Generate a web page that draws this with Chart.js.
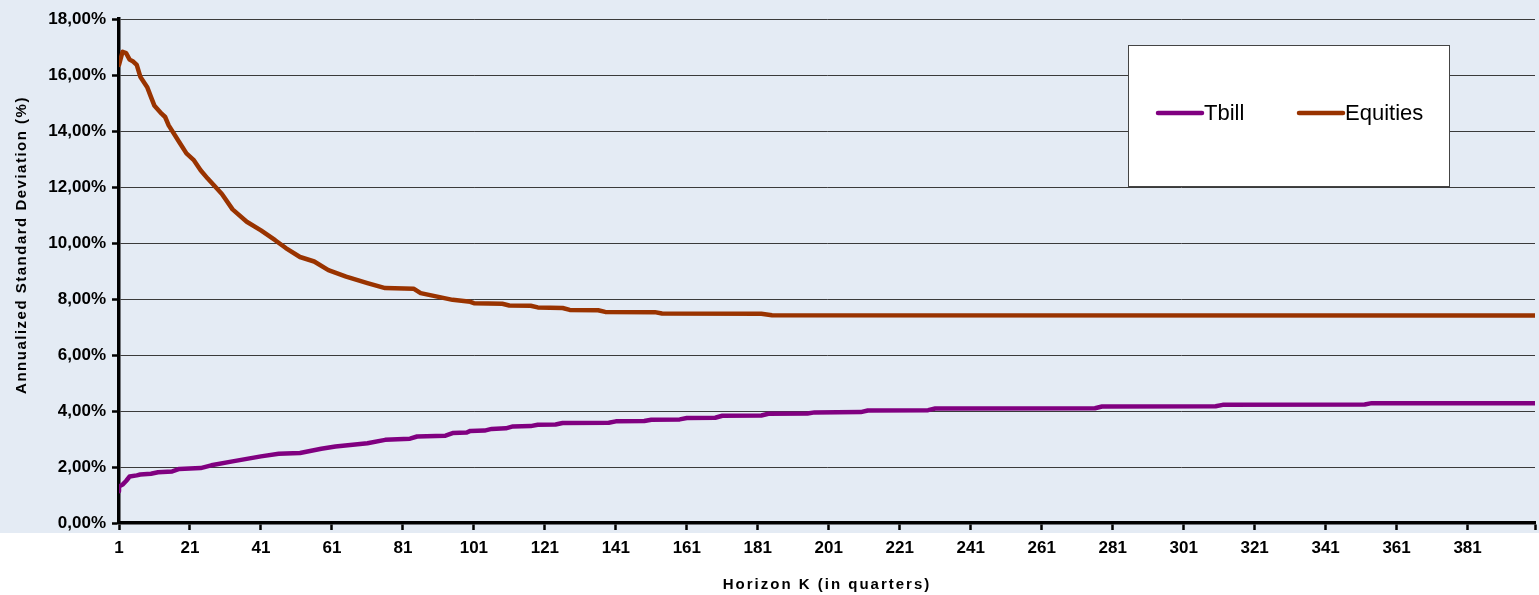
<!DOCTYPE html>
<html>
<head>
<meta charset="utf-8">
<script src="https://cdn.jsdelivr.net/npm/chart.js@4.4.1/dist/chart.umd.min.js"></script>
<style>
  html, body { margin: 0; padding: 0; background: #fff; }
  #wrap { width: 1539px; height: 595px; position: relative; }
</style>
</head>
<body>
<div id="wrap"><canvas id="grafica"></canvas></div>
<script>
// Datos (K en trimestres, desviación estándar anualizada en %)
const tbillK = [1, 1, 2, 3, 4, 6, 7, 10, 12, 16, 18, 24, 27, 33, 41, 46, 52, 58, 62, 71, 76, 83, 85, 93, 95, 99, 100, 104, 106, 110, 112, 117, 119, 124, 126, 139, 141, 149, 151, 159, 161, 169, 171, 182, 184, 195, 197, 210, 212, 229, 231, 276, 278, 310, 312, 352, 354, 400];
const tbillVal = [1.13, 1.3, 1.37, 1.5, 1.66, 1.7, 1.73, 1.76, 1.81, 1.84, 1.93, 1.96, 2.06, 2.2, 2.38, 2.47, 2.5, 2.65, 2.73, 2.85, 2.97, 3.01, 3.09, 3.12, 3.21, 3.23, 3.29, 3.3, 3.36, 3.38, 3.45, 3.46, 3.51, 3.52, 3.57, 3.58, 3.63, 3.64, 3.69, 3.7, 3.75, 3.76, 3.83, 3.84, 3.9, 3.91, 3.95, 3.96, 4.02, 4.03, 4.09, 4.1, 4.16, 4.17, 4.22, 4.23, 4.28, 4.28];

const equitiesK = [1, 2, 3, 4, 5, 6, 7, 9, 10, 11, 13, 14, 15, 18, 20, 22, 24, 26, 30, 33, 37, 41, 45, 48, 52, 56, 60, 65, 71, 76, 84, 86, 95, 100, 101, 109, 111, 117, 119, 126, 128, 136, 138, 152, 154, 182, 185, 400];
const equitiesVal = [16.36, 16.83, 16.78, 16.55, 16.48, 16.36, 15.94, 15.55, 15.22, 14.9, 14.62, 14.5, 14.2, 13.6, 13.2, 12.97, 12.6, 12.3, 11.75, 11.2, 10.76, 10.45, 10.1, 9.82, 9.5, 9.34, 9.03, 8.8, 8.57, 8.39, 8.37, 8.21, 7.97, 7.9, 7.85, 7.83, 7.77, 7.76, 7.7, 7.68, 7.61, 7.6, 7.54, 7.53, 7.48, 7.47, 7.42, 7.41];

const xTicks = [1, 21, 41, 61, 81, 101, 121, 141, 161, 181, 201, 221, 241, 261, 281, 301, 321, 341, 361, 381];
const xMax = 400;
const yTicks = [0, 2, 4, 6, 8, 10, 12, 14, 16, 18];

const colorTbill = '#800080';
const colorEquities = '#993300';
const fuente = '"Liberation Sans", Arial, sans-serif';

const toPoints = (ks, vals) => ks.map((k, i) => ({ x: k, y: vals[i] }));

// Fondo: azul claro arriba, blanco debajo del eje
const fondo = {
  id: 'fondo',
  beforeDraw(chart) {
    const { ctx, width, height, chartArea } = chart;
    ctx.save();
    ctx.fillStyle = '#fff';
    ctx.fillRect(0, 0, width, height);
    ctx.fillStyle = '#E4EBF4';
    ctx.fillRect(0, 0, width, chartArea.bottom + 10);
    ctx.restore();
  }
};

// Leyenda en caja blanca + títulos de ejes con espaciado
const extras = {
  id: 'extras',
  afterDraw(chart) {
    const { ctx, chartArea } = chart;
    ctx.save();
    // caja
    const bx = 1128, by = 45, bw = 321, bh = 141;
    ctx.fillStyle = '#fff';
    ctx.fillRect(bx, by, bw, bh);
    ctx.strokeStyle = '#444';
    ctx.lineWidth = 1;
    ctx.strokeRect(bx + 0.5, by + 0.5, bw, bh);
    const items = [{ x: 1158 }, { x: 1299 }];
    ctx.font = '22px ' + fuente;
    ctx.textBaseline = 'middle';
    chart.data.datasets.forEach((ds, i) => {
      const lx = items[i].x, ly = 113;
      ctx.strokeStyle = ds.borderColor;
      ctx.lineWidth = 4.5;
      ctx.lineCap = 'round';
      ctx.beginPath();
      ctx.moveTo(lx, ly);
      ctx.lineTo(lx + 44, ly);
      ctx.stroke();
      ctx.fillStyle = '#000';
      ctx.textAlign = 'left';
      ctx.fillText(ds.label, lx + 46, ly + 1);
    });
    // título eje X
    ctx.font = 'bold 15px ' + fuente;
    ctx.letterSpacing = '2px';
    ctx.textAlign = 'center';
    ctx.fillStyle = '#000';
    ctx.fillText('Horizon K (in quarters)', (chartArea.left + chartArea.right) / 2, 585);
    // título eje Y
    ctx.letterSpacing = '1.5px';
    ctx.translate(22, 245);
    ctx.rotate(-Math.PI / 2);
    ctx.fillText('Annualized Standard Deviation (%)', 0, 0);
    ctx.restore();
  }
};

const ctx = document.getElementById('grafica');
new Chart(ctx, {
  type: 'line',
  data: {
    datasets: [
      { label: 'Tbill', data: toPoints(tbillK, tbillVal), borderColor: colorTbill },
      { label: 'Equities', data: toPoints(equitiesK, equitiesVal), borderColor: colorEquities }
    ]
  },
  options: {
    responsive: true,
    maintainAspectRatio: false,
    animation: false,
    layout: { padding: { top: 19, right: 4, left: 0, bottom: 0 } },
    elements: {
      point: { radius: 0 },
      line: { borderWidth: 4.5, tension: 0, borderCapStyle: 'round', borderJoinStyle: 'round', fill: false }
    },
    plugins: {
      legend: { display: false },
      tooltip: { enabled: false }
    },
    scales: {
      x: {
        type: 'linear',
        min: 1,
        max: xMax,
        afterBuildTicks: s => { s.ticks = xTicks.concat([xMax]).map(v => ({ value: v })); },
        afterFit: s => { s.height = 72; s.paddingRight = 0; },
        grid: { drawOnChartArea: false, drawTicks: true, tickLength: 7, tickColor: '#000', tickWidth: 2.5 },
        border: { color: '#000', width: 3.5 },
        ticks: {
          autoSkip: false,
          maxRotation: 0,
          padding: 8,
          color: '#000',
          font: { family: fuente, size: 17, weight: 'bold' },
          callback: v => (xTicks.includes(v) ? String(v) : '')
        }
      },
      y: {
        min: 0,
        max: 18,
        afterBuildTicks: s => { s.ticks = yTicks.map(v => ({ value: v })); },
        afterFit: s => { s.width = 119; },
        grid: { color: '#3a3a3a', lineWidth: 1, drawTicks: true, tickLength: 7, tickColor: '#000', tickWidth: 2.5 },
        border: { color: '#000', width: 3.5 },
        ticks: {
          padding: 6,
          color: '#000',
          font: { family: fuente, size: 17, weight: 'bold' },
          callback: v => v.toFixed(2).replace('.', ',') + '%'
        }
      }
    }
  },
  plugins: [fondo, extras]
});
</script>
</body>
</html>
